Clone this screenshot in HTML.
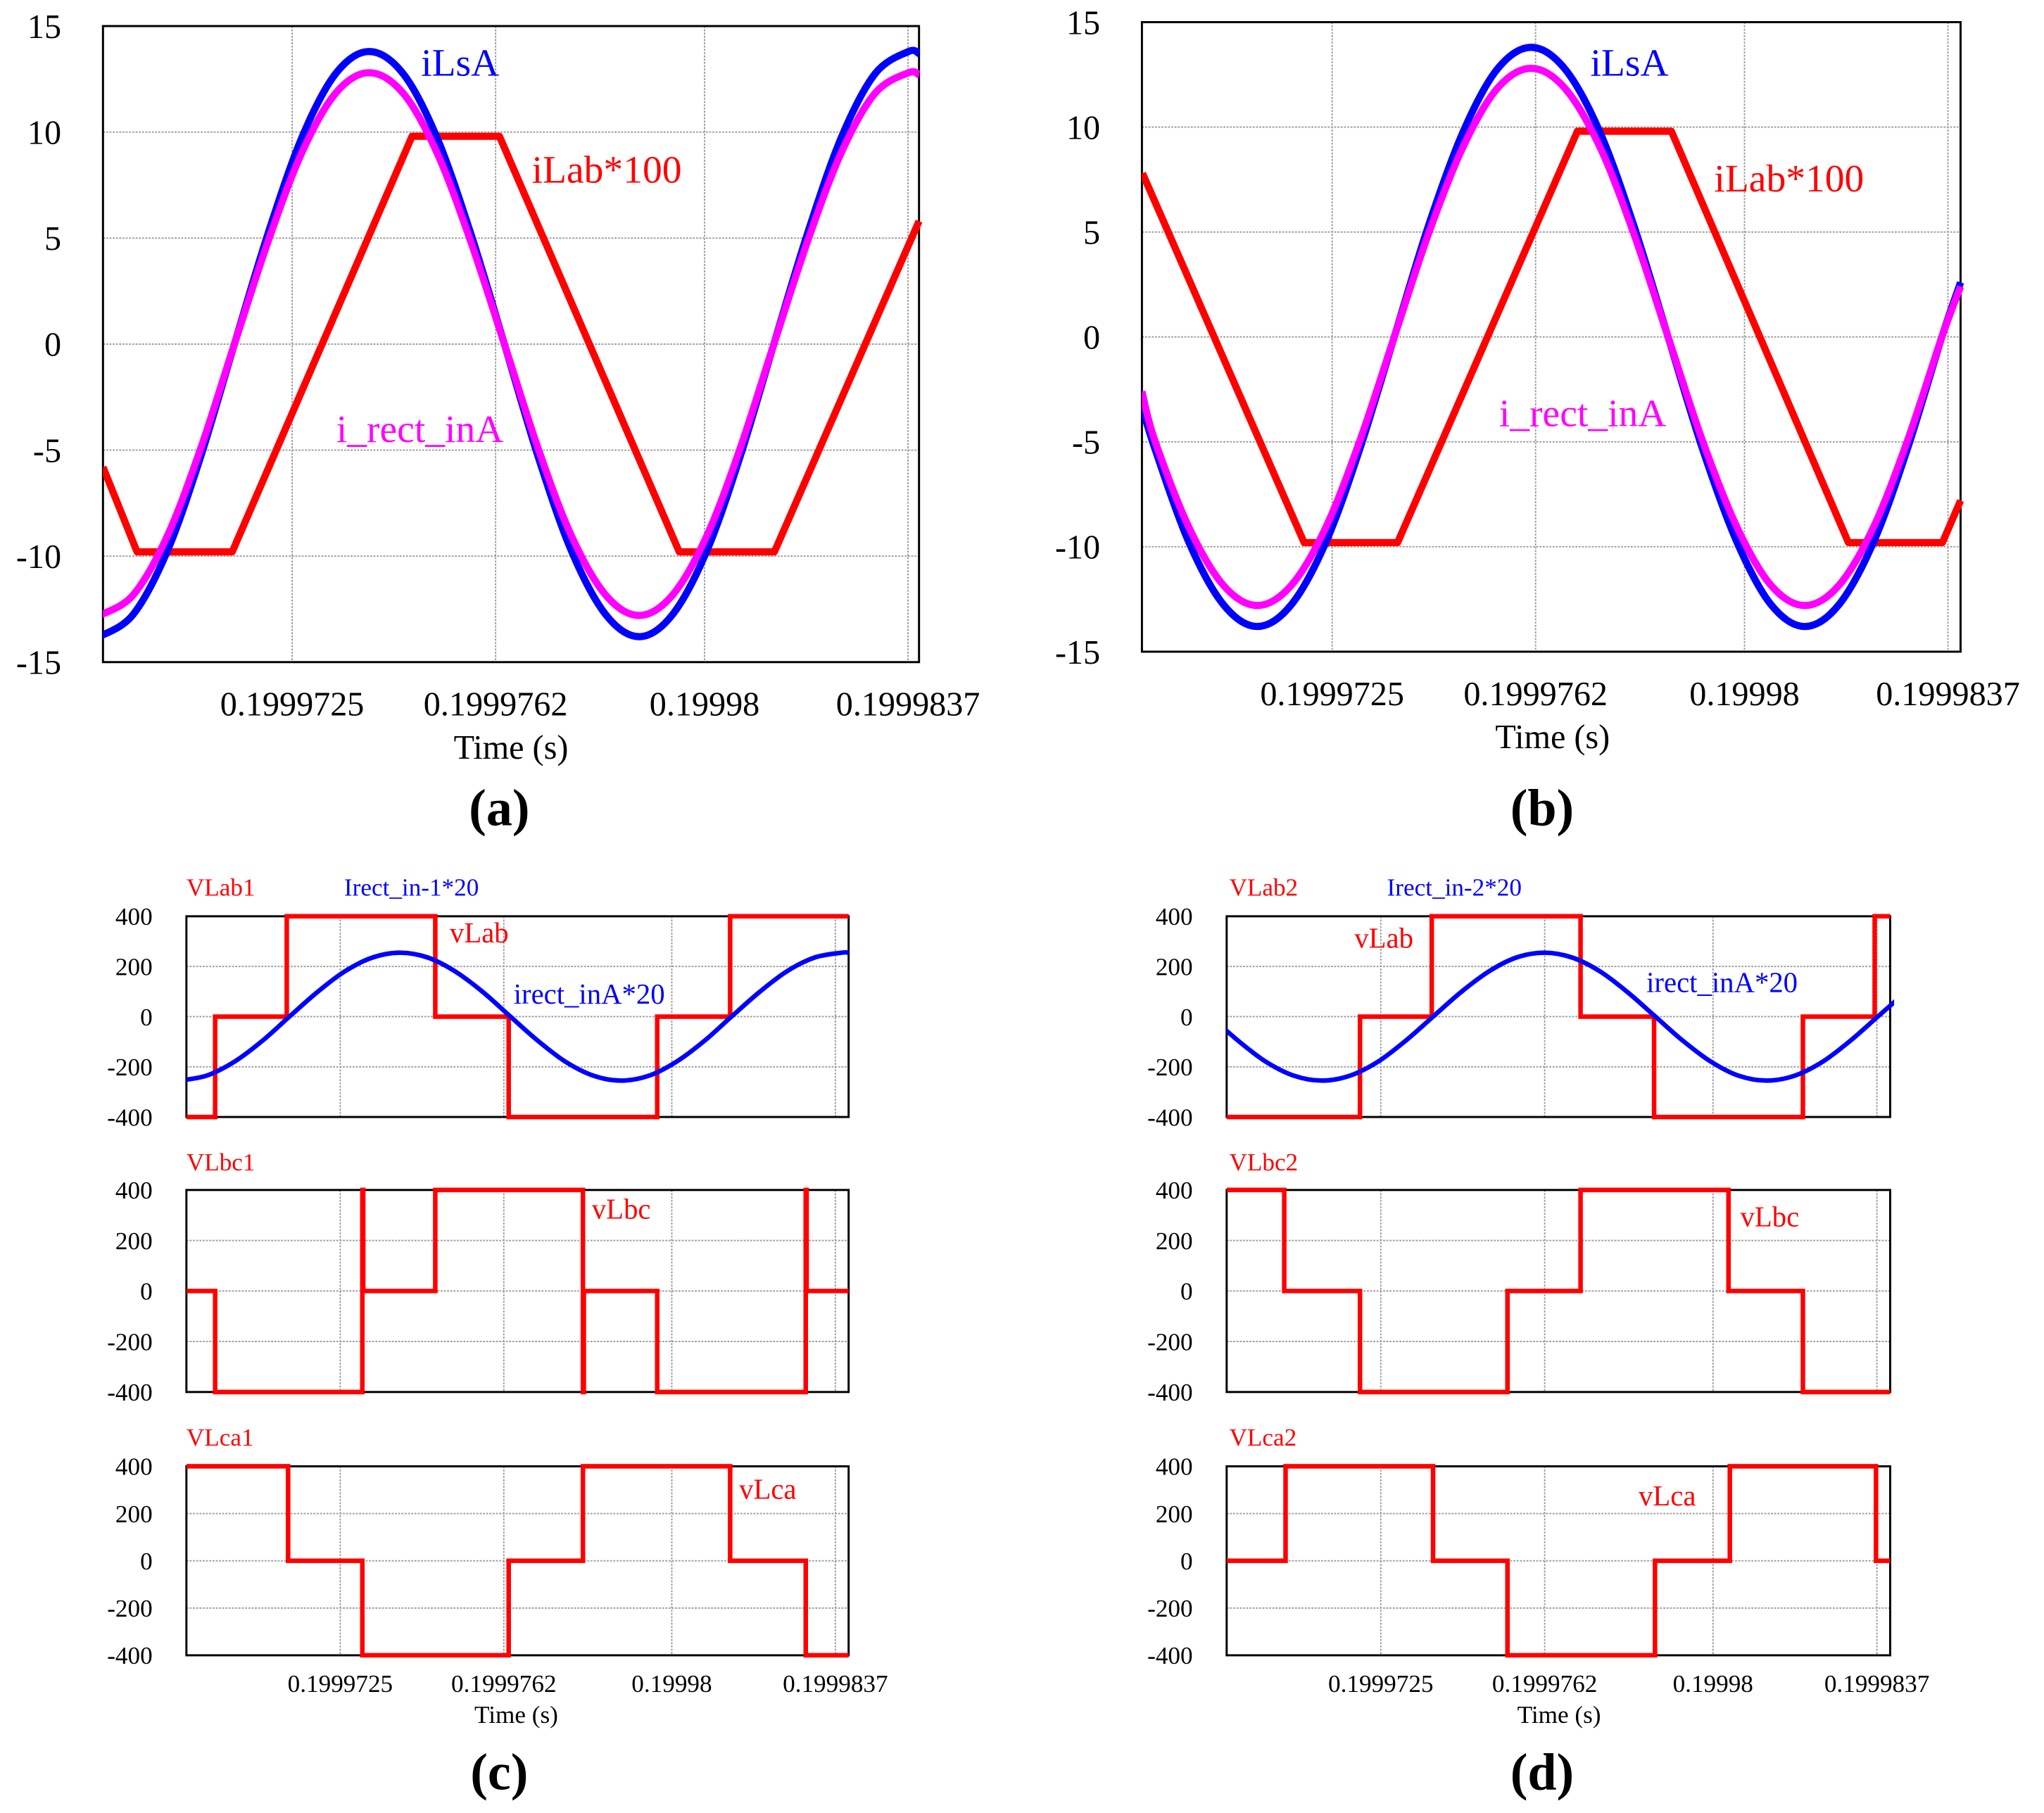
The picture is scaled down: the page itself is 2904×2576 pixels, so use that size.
<!DOCTYPE html>
<html><head><meta charset="utf-8"><style>
html,body{margin:0;padding:0;background:#fff}
svg{display:block}
text{font-family:"Liberation Serif",serif}
</style></head><body>
<svg id="fig" xmlns="http://www.w3.org/2000/svg" width="2904" height="2576" viewBox="0 0 1568 1391" preserveAspectRatio="none"></svg>
<script>
// ---- shared tick data ----
const xTickVals = [2.5, 6.2, 10.0, 13.7];
const xTickLabels = ["0.1999725","0.1999762","0.19998","0.1999837"];
const yTicksI = [15,10,5,0,-5,-10,-15];
const yTicksV = [400,200,0,-200,-400];

// ---- panel (a) ----
const tA = [-1.0,-0.39,0.23,0.84,1.45,2.07,2.68,3.29,3.9,4.52,5.13,5.74,6.36,6.97,7.58,8.2,8.81,9.42,10.04,10.65,11.26,11.88,12.49,13.1,13.71,13.9];
const iLsA_a = [-13.8,-12.75,-9.76,-5.28,0,5.28,9.76,12.75,13.8,12.75,9.76,5.28,0,-5.28,-9.76,-12.75,-13.8,-12.75,-9.76,-5.28,0,5.28,9.76,12.75,13.8,13.7];
const iRect_a = [-12.8,-11.83,-9.05,-4.9,0,4.9,9.05,11.83,12.8,11.83,9.05,4.9,0,-4.9,-9.05,-11.83,-12.8,-11.83,-9.05,-4.9,0,4.9,9.05,11.83,12.8,12.7];
const tLabA = [-0.94,-0.32,1.41,4.68,6.27,9.54,11.27,13.9];
const iLab_a = [-5.8,-9.8,-9.8,9.8,9.8,-9.8,-9.8,5.8];

// ---- panel (b) ----
const tB = [-0.96,-0.73,-0.11,0.52,1.14,1.76,2.39,3.01,3.63,4.25,4.88,5.5,6.12,6.74,7.37,7.99,8.61,9.23,9.86,10.48,11.1,11.72,12.35,12.97,13.59,13.93];
const iLsA_b = [-3.3,-5.28,-9.76,-12.75,-13.8,-12.75,-9.76,-5.28,0,5.28,9.76,12.75,13.8,12.75,9.76,5.28,0,-5.28,-9.76,-12.75,-13.8,-12.75,-9.76,-5.28,0,2.6];
const iRect_b = [-2.6,-4.9,-9.05,-11.83,-12.8,-11.83,-9.05,-4.9,0,4.9,9.05,11.83,12.8,11.83,9.05,4.9,0,-4.9,-9.05,-11.83,-12.8,-11.83,-9.05,-4.9,0,2.4];
const tLabB = [-0.95,1.99,3.69,6.96,8.67,11.89,13.6,13.93];
const iLab_b = [7.8,-9.8,-9.8,9.8,9.8,-9.8,-9.8,-7.8];

// ---- panel (c) ----
const tC = [-1.15,-0.53,0.1,0.73,1.35,1.98,2.6,3.23,3.85,4.48,5.1,5.73,6.35,6.98,7.6,8.23,8.85,9.48,10.1,10.73,11.35,11.98,12.6,13.23,13.85,14.0];
const irect_c = [-255,-235.6,-180.3,-97.6,0,97.6,180.3,235.6,255,235.6,180.3,97.6,0,-97.6,-180.3,-235.6,-255,-235.6,-180.3,-97.6,0,97.6,180.3,235.6,255,254];
const vLabC_t = [-0.98,-0.33,1.29,4.65,6.31,9.67,11.32,14.0];
const vLabC_v = [-400,0,400,0,-400,0,400];
const vLbcC_t = [-0.98,-0.33,3.0,3.02,4.65,7.99,8.01,9.67,13.03,13.05,14.0];
const vLbcC_v = [0,-400,400,0,400,-400,0,-400,400,0];
const vLcaC_t = [-0.98,1.32,3.0,6.31,7.99,11.32,13.03,14.0];
const vLcaC_v = [400,0,-400,0,400,0,-400];

// ---- panel (d) ----
const tD = [-1.34,-0.71,-0.09,0.54,1.17,1.8,2.43,3.05,3.68,4.31,4.94,5.56,6.19,6.82,7.45,8.07,8.7,9.33,9.96,10.58,11.21,11.84,12.47,13.09,13.72,14.35];
const irect_d = [0,-97.6,-180.3,-235.6,-255,-235.6,-180.3,-97.6,0,97.6,180.3,235.6,255,235.6,180.3,97.6,0,-97.6,-180.3,-235.6,-255,-235.6,-180.3,-97.6,0,97.6];
const vLabD_t = [-0.98,2.03,3.65,7.01,8.67,12.03,13.65,14.0];
const vLabD_v = [-400,0,400,0,-400,0,400];
const vLbcD_t = [-0.98,0.32,2.03,5.36,7.01,10.35,12.03,14.0];
const vLbcD_v = [400,0,-400,0,400,0,-400];
const vLcaD_t = [-0.98,0.35,3.68,5.36,8.69,10.38,13.68,14.0];
const vLcaD_v = [0,400,0,-400,0,400,0];

const NS = "http://www.w3.org/2000/svg";
const svg = document.getElementById('fig');
let clipId = 0;
function mk(tag, attrs, parent) {
  const e = document.createElementNS(NS, tag);
  for (const k in attrs) e.setAttribute(k, attrs[k]);
  (parent || svg).appendChild(e);
  return e;
}
function txt(x, y, s, size, fill, anchor, name, weight) {
  const e = mk('text', {x:x, y:y, 'font-size':size, fill:fill, 'text-anchor':anchor||'start'});
  if (weight) e.setAttribute('font-weight', weight);
  e.textContent = s;
  
  
  return e;
}
function axes(box, xdom, ydom, yticks, fs, showX, tickY, name) {
  const g = mk('g', {});
  
  
  const sx = t => box.x0 + (t - xdom[0]) / (xdom[1] - xdom[0]) * (box.x1 - box.x0);
  const sy = v => box.y1 - (v - ydom[0]) / (ydom[1] - ydom[0]) * (box.y1 - box.y0);
  yticks.forEach(v => {
    const y = sy(v);
    if (v !== ydom[0] && v !== ydom[1]) {
      const l = mk('line', {x1:box.x0, x2:box.x1, y1:y, y2:y, stroke:'#999', 'stroke-width':1, 'stroke-dasharray':'1.5,1'}, g);
      
      
    }
    const t = txt(box.x0 - 10 - (fs>20?22:16), y + fs*0.35, String(v), fs, '#000', 'end', 'y-tick-label');
    g.appendChild(t);
  });
  xTickVals.forEach((tv, i) => {
    const x = sx(tv);
    const l = mk('line', {x1:x, x2:x, y1:box.y0, y2:box.y1, stroke:'#999', 'stroke-width':1, 'stroke-dasharray':'1.5,1'}, g);
    
    
    if (showX) {
      const t = txt(x, tickY, xTickLabels[i], fs, '#000', 'middle', 'x-tick-label');
      g.appendChild(t);
    }
  });
  const f = mk('rect', {x:box.x0, y:box.y0, width:box.x1-box.x0, height:box.y1-box.y0, fill:'none', stroke:'#000', 'stroke-width':1.6}, g);
  
  
  const cid = 'clip' + (clipId++);
  const cp = mk('clipPath', {id:cid}, g);
  mk('rect', {x:box.x0, y:box.y0-3, width:box.x1-box.x0+3, height:box.y1-box.y0+6}, cp);
  return {sx, sy, cid};
}
function smooth(ax, ts, vs, color, w, name) {
  const p = ts.map((t,i)=>[ax.sx(t), ax.sy(vs[i])]);
  let d = 'M' + p[0][0] + ',' + p[0][1];
  for (let i = 0; i < p.length-1; i++) {
    const p0 = p[Math.max(0,i-1)], p1 = p[i], p2 = p[i+1], p3 = p[Math.min(p.length-1,i+2)];
    const c1 = [p1[0]+(p2[0]-p0[0])/6, p1[1]+(p2[1]-p0[1])/6];
    const c2 = [p2[0]-(p3[0]-p1[0])/6, p2[1]-(p3[1]-p1[1])/6];
    d += 'C' + c1.join(',') + ' ' + c2.join(',') + ' ' + p2.join(',');
  }
  const e = mk('path', {d:d, fill:'none', stroke:color, 'stroke-width':w, 'clip-path':'url(#'+ax.cid+')', 'stroke-linejoin':'round'});
  
  
}
function poly(ax, ts, vs, color, w, name) {
  const pts = ts.map((t,i)=>ax.sx(t)+','+ax.sy(vs[i])).join(' ');
  const e = mk('polyline', {points:pts, fill:'none', stroke:color, 'stroke-width':w, 'stroke-linejoin':'round', 'clip-path':'url(#'+ax.cid+')'});
  
  
}
function steps(ax, ts, lv, color, w, name) {
  let d = 'M' + ax.sx(ts[0]) + ',' + ax.sy(lv[0]);
  for (let i = 0; i < lv.length; i++) {
    d += 'H' + ax.sx(ts[i+1]);
    if (i+1 < lv.length) d += 'V' + ax.sy(lv[i+1]);
  }
  const e = mk('path', {d:d, fill:'none', stroke:color, 'stroke-width':w, 'clip-path':'url(#'+ax.cid+')'});
  
  
}
const RED = '#ff0000', BLUE = '#0000ff', MAG = '#ff00ff';

// Panel (a)
let a = axes({x0:79,x1:705,y0:20,y1:508}, [-0.94,13.9], [-15,15], yTicksI, 26, true, 549, 'panel-a-axes');
poly(a, tLabA, iLab_a, RED, 5.5, 'ilab-100-line-a');
smooth(a, tA, iLsA_a, BLUE, 5.5, 'ilsa-line-a');
smooth(a, tA, iRect_a, MAG, 5.5, 'i-rect-ina-line-a');
txt(323, 58, 'iLsA', 30, BLUE, 'start', 'ilsa-label-a');
txt(408, 140, 'iLab*100', 30, RED, 'start', 'ilab-label-a');
txt(258, 339, 'i_rect_inA', 30, MAG, 'start', 'i-rect-ina-label-a');
txt(392, 582, 'Time (s)', 26, '#000', 'middle', 'x-axis-title-a');
txt(383, 633, '(a)', 40, '#000', 'middle', 'panel-label-a', 'bold');

// Panel (b)
let b = axes({x0:876,x1:1504,y0:17,y1:500}, [-0.96,13.93], [-15,15], yTicksI, 26, true, 541, 'panel-b-axes');
poly(b, tLabB, iLab_b, RED, 5.5, 'ilab-100-line-b');
smooth(b, tB, iLsA_b, BLUE, 5.5, 'ilsa-line-b');
smooth(b, tB, iRect_b, MAG, 5.5, 'i-rect-ina-line-b');
txt(1220, 58, 'iLsA', 30, BLUE, 'start', 'ilsa-label-b');
txt(1315, 147, 'iLab*100', 30, RED, 'start', 'ilab-label-b');
txt(1150, 327, 'i_rect_inA', 30, MAG, 'start', 'i-rect-ina-label-b');
txt(1191, 574, 'Time (s)', 26, '#000', 'middle', 'x-axis-title-b');
txt(1183, 633, '(b)', 40, '#000', 'middle', 'panel-label-b', 'bold');

// Panel (c)
const rows = [[703,857],[913,1068],[1125,1270]];
let c1 = axes({x0:143,x1:651,y0:rows[0][0],y1:rows[0][1]}, [-0.98,14.0], [-400,400], yTicksV, 19, false, 0, 'panel-c-vlab-axes');
steps(c1, vLabC_t, vLabC_v, RED, 3.5, 'vlab-line-c');
smooth(c1, tC, irect_c, BLUE, 3.5, 'irect-line-c');
let c2 = axes({x0:143,x1:651,y0:rows[1][0],y1:rows[1][1]}, [-0.98,14.0], [-400,400], yTicksV, 19, false, 0, 'panel-c-vlbc-axes');
steps(c2, vLbcC_t, vLbcC_v, RED, 3.5, 'vlbc-line-c');
let c3 = axes({x0:143,x1:651,y0:rows[2][0],y1:rows[2][1]}, [-0.98,14.0], [-400,400], yTicksV, 19, true, 1298, 'panel-c-vlca-axes');
steps(c3, vLcaC_t, vLcaC_v, RED, 3.5, 'vlca-line-c');
txt(143, 687, 'VLab1', 19, RED, 'start', 'vlab1-title');
txt(264, 687, 'Irect_in-1*20', 19, BLUE, 'start', 'irect-in-1-title');
txt(345, 723, 'vLab', 22, RED, 'start', 'vlab-label-c');
txt(394, 770, 'irect_inA*20', 22, BLUE, 'start', 'irect-label-c');
txt(143, 898, 'VLbc1', 19, RED, 'start', 'vlbc1-title');
txt(454, 935, 'vLbc', 22, RED, 'start', 'vlbc-label-c');
txt(143, 1109, 'VLca1', 19, RED, 'start', 'vlca1-title');
txt(567, 1150, 'vLca', 22, RED, 'start', 'vlca-label-c');
txt(396, 1322, 'Time (s)', 19, '#000', 'middle', 'x-axis-title-c');
txt(383, 1373, '(c)', 40, '#000', 'middle', 'panel-label-c', 'bold');

// Panel (d)
let d1 = axes({x0:941,x1:1450,y0:rows[0][0],y1:rows[0][1]}, [-0.98,14.0], [-400,400], yTicksV, 19, false, 0, 'panel-d-vlab-axes');
steps(d1, vLabD_t, vLabD_v, RED, 3.5, 'vlab-line-d');
smooth(d1, tD, irect_d, BLUE, 3.5, 'irect-line-d');
let d2 = axes({x0:941,x1:1450,y0:rows[1][0],y1:rows[1][1]}, [-0.98,14.0], [-400,400], yTicksV, 19, false, 0, 'panel-d-vlbc-axes');
steps(d2, vLbcD_t, vLbcD_v, RED, 3.5, 'vlbc-line-d');
let d3 = axes({x0:941,x1:1450,y0:rows[2][0],y1:rows[2][1]}, [-0.98,14.0], [-400,400], yTicksV, 19, true, 1298, 'panel-d-vlca-axes');
steps(d3, vLcaD_t, vLcaD_v, RED, 3.5, 'vlca-line-d');
txt(943, 687, 'VLab2', 19, RED, 'start', 'vlab2-title');
txt(1064, 687, 'Irect_in-2*20', 19, BLUE, 'start', 'irect-in-2-title');
txt(1039, 727, 'vLab', 22, RED, 'start', 'vlab-label-d');
txt(1263, 761, 'irect_inA*20', 22, BLUE, 'start', 'irect-label-d');
txt(943, 898, 'VLbc2', 19, RED, 'start', 'vlbc2-title');
txt(1335, 941, 'vLbc', 22, RED, 'start', 'vlbc-label-d');
txt(943, 1109, 'VLca2', 19, RED, 'start', 'vlca2-title');
txt(1257, 1155, 'vLca', 22, RED, 'start', 'vlca-label-d');
txt(1196, 1322, 'Time (s)', 19, '#000', 'middle', 'x-axis-title-d');
txt(1183, 1373, '(d)', 40, '#000', 'middle', 'panel-label-d', 'bold');
</script>
</body></html>
